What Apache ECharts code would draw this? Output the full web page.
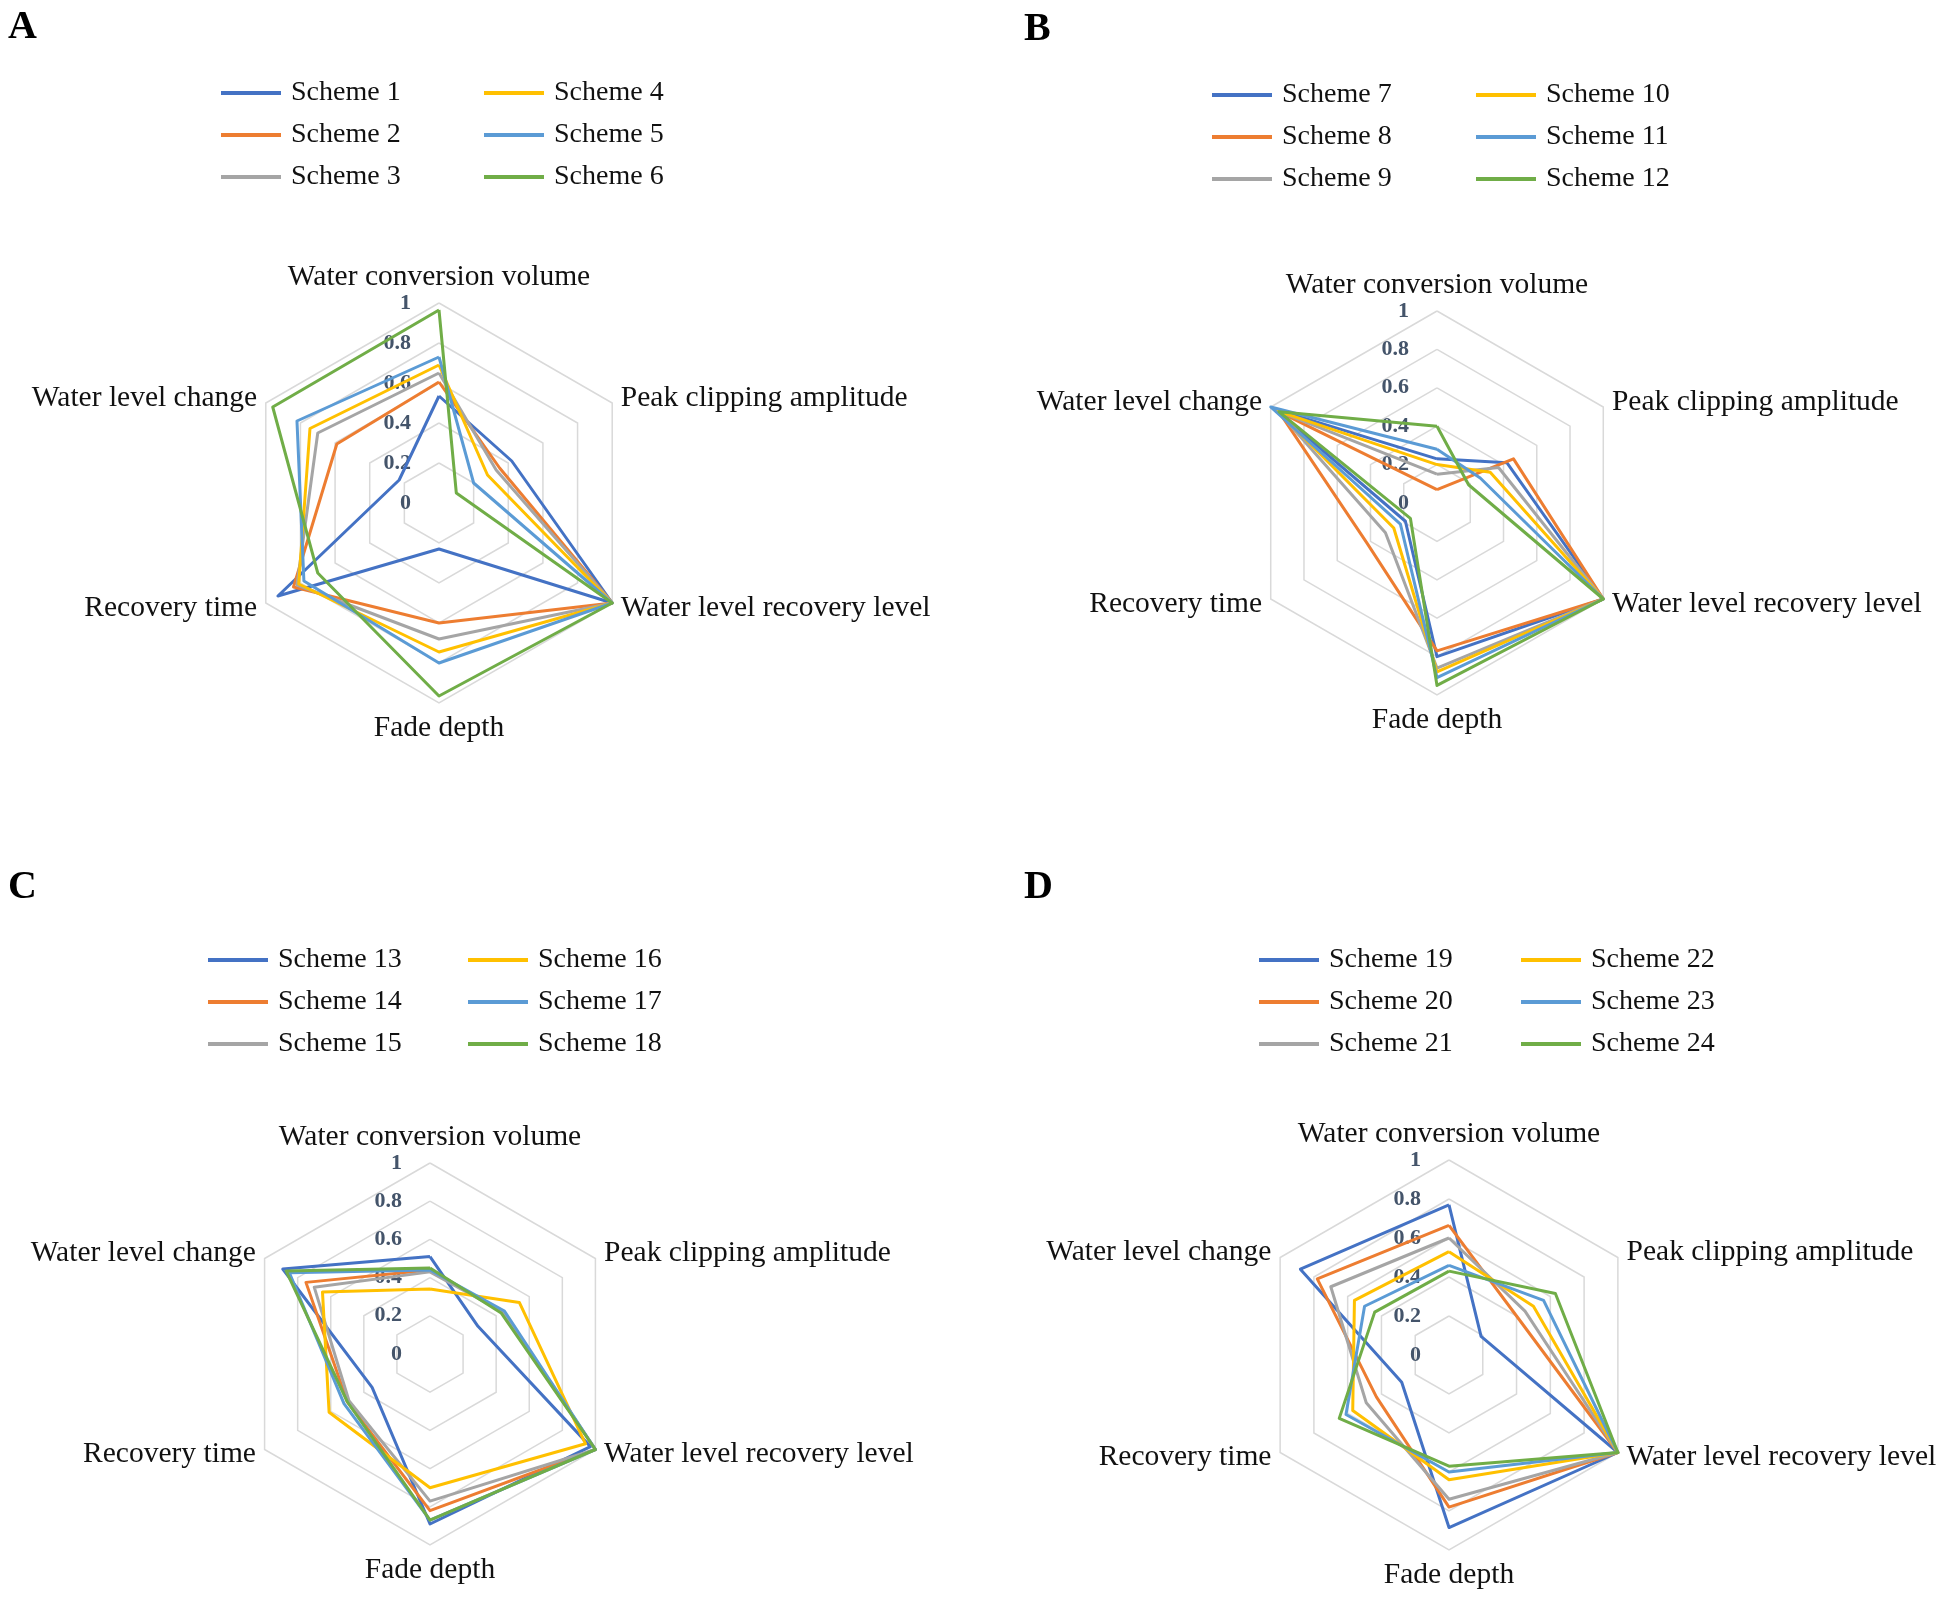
<!DOCTYPE html>
<html>
<head>
<meta charset="utf-8">
<script src="https://cdn.jsdelivr.net/npm/echarts@6/dist/echarts.min.js"></script>
<style>
html,body{margin:0;padding:0;background:#fff;}
#chart{width:1949px;height:1598px;}
</style>
</head>
<body>
<div id="chart"></div>
<script>
// Axis names in Excel (clockwise from top) order
const axisNames = ['Water conversion volume','Peak clipping amplitude','Water level recovery level','Fade depth','Recovery time','Water level change'];
const tickLabels = ['0','0.2','0.4','0.6','0.8','1'];
const colors = ['#4472C4','#ED7D31','#A5A5A5','#FFC000','#5B9BD5','#70AD47'];
const panelLetters = ['A','B','C','D'];

// Panel A: Schemes 1-6
const schemesA = ['Scheme 1','Scheme 2','Scheme 3','Scheme 4','Scheme 5','Scheme 6'];
const valuesA = [
  [0.535, 0.42, 1.00, 0.23, 0.93, 0.23],
  [0.605, 0.35, 1.00, 0.60, 0.84, 0.59],
  [0.65, 0.33, 1.00, 0.68, 0.82, 0.70],
  [0.69, 0.28, 1.00, 0.745, 0.81, 0.745],
  [0.73, 0.20, 1.00, 0.80, 0.78, 0.82],
  [0.965, 0.10, 1.00, 0.965, 0.70, 0.96]
];
// Panel B: Schemes 7-12
const schemesB = ['Scheme 7','Scheme 8','Scheme 9','Scheme 10','Scheme 11','Scheme 12'];
const valuesB = [
  [0.23, 0.42, 1.00, 0.80, 0.19, 0.98],
  [0.07, 0.46, 1.00, 0.77, 0.42, 0.95],
  [0.15, 0.37, 1.00, 0.86, 0.31, 0.96],
  [0.20, 0.32, 1.00, 0.88, 0.26, 0.96],
  [0.28, 0.26, 1.00, 0.91, 0.22, 1.00],
  [0.40, 0.19, 1.00, 0.95, 0.16, 0.95]
];
// Panel C: Schemes 13-18
const schemesC = ['Scheme 13','Scheme 14','Scheme 15','Scheme 16','Scheme 17','Scheme 18'];
const valuesC = [
  [0.51, 0.29, 0.97, 0.89, 0.35, 0.89],
  [0.44, 0.44, 1.00, 0.82, 0.50, 0.75],
  [0.43, 0.44, 1.00, 0.77, 0.49, 0.70],
  [0.34, 0.54, 0.94, 0.70, 0.61, 0.65],
  [0.44, 0.45, 1.00, 0.87, 0.52, 0.85],
  [0.45, 0.43, 1.00, 0.87, 0.50, 0.87]
];
// Panel D: Schemes 19-24
const schemesD = ['Scheme 19','Scheme 20','Scheme 21','Scheme 22','Scheme 23','Scheme 24'];
const valuesD = [
  [0.77, 0.19, 1.00, 0.885, 0.28, 0.88],
  [0.665, 0.40, 1.00, 0.78, 0.43, 0.78],
  [0.60, 0.45, 1.00, 0.74, 0.49, 0.70],
  [0.53, 0.50, 1.00, 0.64, 0.57, 0.56],
  [0.46, 0.56, 1.00, 0.60, 0.61, 0.50],
  [0.43, 0.63, 1.00, 0.57, 0.65, 0.44]
];

const FONT = '"Liberation Serif", "Times New Roman", serif';
// ECharts places indicators counter-clockwise; reorder so the layout runs clockwise like the original
const order = [0, 5, 4, 3, 2, 1];

const panels = [
  {schemes: schemesA, values: valuesA, center: [439, 503], radius: 200, letter: [8, 8],
   leg: [{left: 216, top: 74}, {left: 479, top: 74}]},
  {schemes: schemesB, values: valuesB, center: [1437, 503], radius: 192, letter: [1024, 10],
   leg: [{left: 1207, top: 76}, {left: 1471, top: 76}]},
  {schemes: schemesC, values: valuesC, center: [430, 1354], radius: 191, letter: [8, 868],
   leg: [{left: 203, top: 941}, {left: 463, top: 941}]},
  {schemes: schemesD, values: valuesD, center: [1449, 1355], radius: 195, letter: [1024, 868],
   leg: [{left: 1254, top: 941}, {left: 1516, top: 941}]}
];

const radar = [], series = [], legend = [], graphic = [];
panels.forEach(function (p, pi) {
  radar.push({
    center: p.center,
    radius: p.radius,
    startAngle: 90,
    splitNumber: 5,
    shape: 'polygon',
    nameGap: 10,
    axisName: {color: '#111', fontSize: 29.5, fontFamily: FONT},
    indicator: order.map(function (k, j) {
      const ind = {name: axisNames[k], min: 0, max: 1};
      if (j === 0) {
        ind.axisLabel = {show: true, fontFamily: FONT, fontWeight: 'bold', fontSize: 22, color: '#44546A', margin: 28,
          formatter: function (v) { return tickLabels[Math.round(v * 5)]; }};
      } else {
        ind.axisLabel = {show: false};
      }
      return ind;
    }),
    splitLine: {lineStyle: {color: '#D9D9D9', width: 1.5}},
    splitArea: {show: false},
    axisLine: {show: false},
    axisTick: {show: false},
    axisLabel: {show: false}
  });
  p.schemes.forEach(function (name, si) {
    series.push({
      type: 'radar',
      radarIndex: pi,
      symbol: 'none',
      z: 2 + si,
      itemStyle: {color: colors[si]},
      lineStyle: {color: colors[si], width: 3},
      data: [{name: name, value: order.map(function (k) { return p.values[si][k]; })}]
    });
  });
  [0, 1].forEach(function (c) {
    legend.push({
      data: p.schemes.slice(c * 3, c * 3 + 3),
      orient: 'vertical',
      left: p.leg[c].left,
      top: p.leg[c].top,
      icon: 'rect',
      itemWidth: 60,
      itemHeight: 4,
      itemGap: 14,
      selectedMode: false,
      textStyle: {fontFamily: FONT, fontSize: 28, lineHeight: 28, color: '#111', padding: [0, 0, 0, 5]}
    });
  });
  graphic.push({
    type: 'text', left: p.letter[0], top: p.letter[1],
    style: {text: panelLetters[pi], font: 'bold 40px ' + FONT, fill: '#000'}
  });
});

const chart = echarts.init(document.getElementById('chart'), null, {renderer: 'canvas'});
chart.setOption({
  backgroundColor: '#fff',
  animation: false,
  radar: radar,
  legend: legend,
  graphic: graphic,
  series: series
});
</script>
</body>
</html>
